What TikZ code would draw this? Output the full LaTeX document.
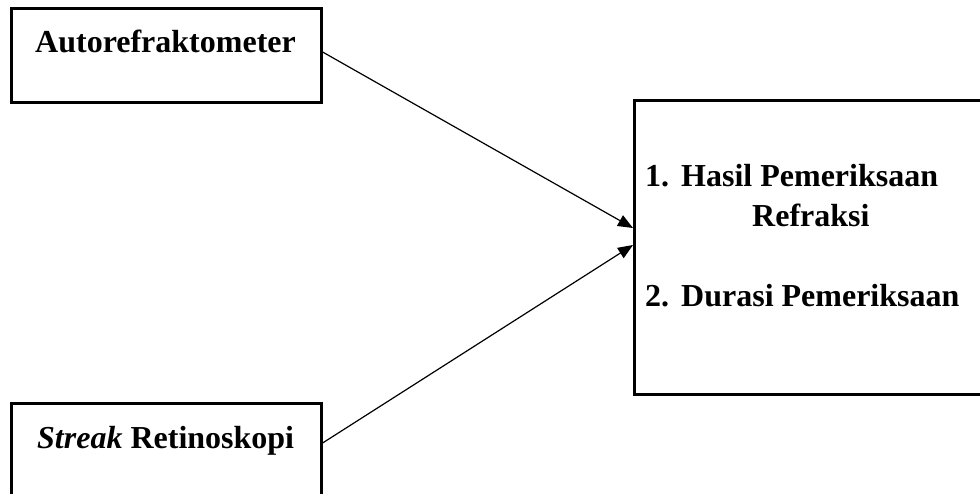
\documentclass[tikz,border=0pt]{standalone}
\usepackage{fontspec}
\setmainfont{Liberation Serif}
\usetikzlibrary{arrows.meta}
\begin{document}
\begin{tikzpicture}[x=1pt,y=1pt,
  boxx/.style={draw=black,line width=2.6pt,fill=none},
  lbl/.style={anchor=base west,inner sep=0pt,font=\fontsize{32}{38}\selectfont\bfseries},
  conn/.style={line width=1.2pt,-{Triangle[length=15pt,width=12pt]}}]
\useasboundingbox (0,0) rectangle (980,493);
\clip (0,0) rectangle (980,493);
\fill[white] (0,0) rectangle (980,493);
% boxes
\node[boxx,rectangle,minimum width=310pt,minimum height=94pt,anchor=north west,inner sep=0pt] (auto) at (10,486) {};
\node[boxx,rectangle,minimum width=310pt,minimum height=120pt,anchor=north west,inner sep=0pt] (streak) at (10,91) {};
\node[boxx,rectangle,minimum width=380pt,minimum height=294pt,anchor=north west,inner sep=0pt] (hasil) at (633,394) {};
% texts
\node[lbl] (t1) at (35,440) {Autorefraktometer};
\node[lbl] (t2) at (37,45) {\textit{Streak} Retinoskopi};
\node[lbl] (t3) at (645,306) {1.\hspace{12pt}Hasil Pemeriksaan};
\node[lbl] (t4) at (752,266) {Refraksi};
\node[lbl] (t5) at (645,186) {2.\hspace{12pt}Durasi Pemeriksaan};
% connector ends
\coordinate (a1) at (auto.east |- 0,441);
\coordinate (a2) at (streak.east |- 0,50);
\coordinate (e1) at (hasil.west |- 0,265);
\coordinate (e2) at (hasil.west |- 0,248);
\draw[conn] (a1) -- (e1);
\draw[conn] (a2) -- (e2);
\end{tikzpicture}
\end{document}
